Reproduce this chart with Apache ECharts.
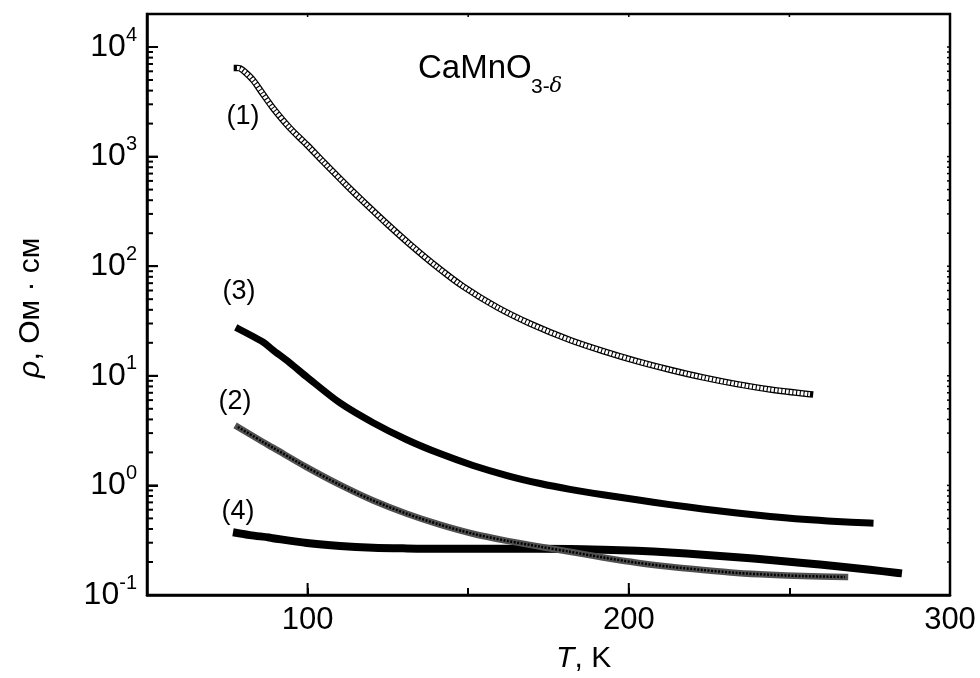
<!DOCTYPE html>
<html>
<head>
<meta charset="utf-8">
<script src="https://cdn.jsdelivr.net/npm/echarts@6/dist/echarts.min.js"></script>
<style>
html,body{margin:0;padding:0;background:#fff}
#wrap{position:relative;width:980px;height:678px}
#axes,#plot{position:absolute;left:0;top:0;width:980px;height:678px}
</style>
</head>
<body>
<div id="wrap"><div id="axes"></div><div id="plot"></div></div>
<script>
// ---- data ----
// curve (1): open circles
const T1 = [78.0, 79.0, 80.5, 83.0, 86.1, 89.2, 94.5, 99.8, 104.8, 112.3, 117.3, 124.7, 131.9, 140.3, 148.4, 159.0, 169.2, 181.7, 192.0, 202.5, 212.8, 223.1, 233.7, 244.0, 256.4];
const R1 = [6430, 6370, 5910, 5000, 3720, 2780, 1820, 1280, 902, 541, 390, 244, 158, 98.6, 65.5, 42.2, 30.0, 21.2, 16.8, 13.6, 11.35, 9.66, 8.39, 7.50, 6.79];
// curve (2): asterisks
const T2 = [78.3, 86.1, 89.2, 99.8, 110.1, 120.4, 130.9, 141.2, 151.5, 162.1, 172.4, 181.7, 192.0, 202.5, 212.8, 223.1, 233.7, 244.0, 254.2, 267.3];
const R2 = [3.41, 2.49, 2.21, 1.46, 1.01, 0.728, 0.551, 0.438, 0.362, 0.312, 0.276, 0.248, 0.220, 0.197, 0.181, 0.169, 0.159, 0.153, 0.149, 0.146];
// curve (3): filled squares
const T3 = [78.6, 86.1, 89.2, 94.5, 99.8, 110.1, 120.4, 130.9, 141.2, 151.5, 162.1, 172.4, 181.7, 192.0, 202.5, 212.8, 223.1, 233.7, 244.0, 254.2, 264.8, 275.1];
const R3 = [26.7, 20.3, 17.2, 13.1, 9.75, 5.65, 3.73, 2.61, 1.95, 1.52, 1.23, 1.04, 0.920, 0.822, 0.740, 0.668, 0.610, 0.560, 0.521, 0.491, 0.469, 0.454];
// curve (4): filled squares
const T4 = [78.0, 82.0, 88.0, 89.2, 99.8, 110.1, 120.4, 130.9, 141.2, 162.1, 181.7, 192.0, 202.5, 212.8, 223.1, 233.7, 244.0, 254.2, 264.8, 275.1, 283.8];
const R4 = [0.368, 0.352, 0.335, 0.330, 0.298, 0.280, 0.270, 0.266, 0.264, 0.264, 0.263, 0.259, 0.253, 0.244, 0.233, 0.221, 0.209, 0.196, 0.183, 0.170, 0.159];

// axes
const xMin = 50, xMax = 300, xStep = 50;
const xMajorTicks = [100, 200, 300];
const xTopTicks = [100, 150, 200, 250];
const yMin = 0.1, yMax = 20000;
const yMajorTicks = [0.1, 1, 10, 100, 1000, 10000];
const yTickBase = '10';
const yTickExponents = ['-1', '0', '1', '2', '3', '4'];
const yMinorTicks = [];
yMajorTicks.forEach(d => { for (let k = 2; k <= 9; k++) { const v = d * k; if (v < yMax) yMinorTicks.push(v); } });

// texts
const curveLabels = ['(1)', '(3)', '(2)', '(4)'];
const titleMain = 'CaMnO';
const titleSub = '3-';
const titleSubGreek = 'δ';
const xNameItalic = 'T', xNameRest = ', K';
const yNameItalic = 'ρ', yNameRest = ', Ом · см';

const FONT = '"Liberation Sans", Arial, Helvetica, sans-serif';
const GRID = {left: 147, right: 30, top: 14, bottom: 83};
const pairs = (T, R) => T.map((t, i) => [t, R[i]]);

// ---------- layer 1: frame, axes and tick marks ----------
const axesChart = echarts.init(document.getElementById('axes'), null, {renderer: 'canvas'});
axesChart.setOption({
  animation: false,
  grid: Object.assign({show: true, borderColor: '#000', borderWidth: 2.5}, GRID),
  xAxis: [{
    type: 'value', min: xMin, max: xMax, interval: xStep,
    axisTick: {show: true, inside: true, length: 7, lineStyle: {color: '#000', width: 2}},
    axisLine: {show: true, lineStyle: {color: '#000', width: 2.5}},
    axisLabel: {show: false}, splitLine: {show: false}
  }],
  yAxis: [{
    type: 'log', min: yMin, max: yMax,
    axisTick: {show: true, inside: true, length: 11, lineStyle: {color: '#000', width: 2}},
    axisLine: {show: true, lineStyle: {color: '#000', width: 2.5}},
    axisLabel: {show: false}, splitLine: {show: false}
  }],
  series: []
});
const apx = (x, y) => axesChart.convertToPixel({xAxisIndex: 0, yAxisIndex: 0}, [x, y]);
const tickLines = [];
const tick = (p, dx, dy, w) => {
  if (!p || isNaN(p[0]) || isNaN(p[1])) return;
  tickLines.push({type: 'line', shape: {x1: p[0], y1: p[1], x2: p[0] + dx, y2: p[1] + dy}, style: {stroke: '#000', lineWidth: w}});
};
xMajorTicks.forEach(v => tick(apx(v, yMin), 0, -12, 2));
xTopTicks.forEach(v => tick(apx(v, yMax), 0, 3, 1.5));
yMajorTicks.forEach(v => tick(apx(xMin, v), 11, 0, 2));
yMinorTicks.forEach(v => tick(apx(xMin, v), 6, 0, 2));
yMajorTicks.concat(yMinorTicks).forEach(v => tick(apx(xMax, v), -3, 0, 1.5));
axesChart.setOption({graphic: tickLines});

// ---------- layer 2: curves and texts ----------
const plotChart = echarts.init(document.getElementById('plot'), null, {renderer: 'canvas'});
const curve = (data, color, width, z, dash) => ({
  type: 'line', data, symbol: 'none', smooth: 0.3, z,
  lineStyle: {color, width, cap: dash ? 'butt' : 'square', join: 'round', type: dash || 'solid'}
});
plotChart.setOption({
  animation: false,
  backgroundColor: 'transparent',
  grid: Object.assign({}, GRID),
  xAxis: [{type: 'value', min: xMin, max: xMax, show: false}],
  yAxis: [{type: 'log', min: yMin, max: yMax, show: false}],
  series: [
    curve(pairs(T1, R1), '#000', 6.5, 2),
    curve(pairs(T1, R1), '#fff', 4, 3, [2.6, 1.1]),
    curve(pairs(T3, R3), '#000', 7, 2),
    curve(pairs(T2, R2), '#505050', 6.5, 4),
    curve(pairs(T2, R2), '#000', 2.5, 5, [2, 1.5]),
    curve(pairs(T4, R4), '#000', 8, 2)
  ]
});

const px = (x, y) => plotChart.convertToPixel({xAxisIndex: 0, yAxisIndex: 0}, [x, y]);
const g = [];
const txt = (x, y, text, size, align, valign, italic, family) => g.push({
  type: 'text', x, y,
  style: {text, fontSize: size, fontFamily: family || FONT, fontStyle: italic ? 'italic' : 'normal', fill: '#000', align, verticalAlign: valign}
});

// x tick labels
xMajorTicks.forEach(v => { const p = px(v, yMin); txt(p[0], p[1] + 10, String(v), 31, 'center', 'top'); });
// y tick labels: 10 with raised exponent
yMajorTicks.forEach((v, i) => {
  const p = px(xMin, v);
  const e = yTickExponents[i];
  const ew = e.replace('-', '').length * 11.1 + (e.indexOf('-') >= 0 ? 6.7 : 0);
  const right = p[0] - 10;
  txt(right - ew, p[1], yTickBase, 32, 'right', 'middle');
  txt(right, p[1] - 12, e, 20, 'right', 'middle');
});
// axis names
txt(556, 659, xNameItalic, 30, 'left', 'middle', true);
txt(574.5, 659, xNameRest, 30, 'left', 'middle');
g.push({type: 'text', x: 31, y: 378, rotation: Math.PI / 2,
  style: {text: yNameItalic, fontSize: 30, fontFamily: FONT, fontStyle: 'italic', fill: '#000', align: 'left', verticalAlign: 'middle'}});
g.push({type: 'text', x: 31, y: 360.5, rotation: Math.PI / 2,
  style: {text: yNameRest, fontSize: 30, fontFamily: FONT, fill: '#000', align: 'left', verticalAlign: 'middle'}});
// curve labels and title
txt(243, 117, curveLabels[0], 27, 'center', 'middle');
txt(239, 292, curveLabels[1], 27, 'center', 'middle');
txt(235, 402, curveLabels[2], 27, 'center', 'middle');
txt(238, 512, curveLabels[3], 27, 'center', 'middle');
txt(418, 69, titleMain, 33, 'left', 'middle');
txt(531, 87, titleSub, 21, 'left', 'middle');
txt(549.5, 87, titleSubGreek, 21, 'left', 'middle', true, '"DejaVu Serif", "Liberation Serif", serif');

plotChart.setOption({graphic: g});
</script>
</body>
</html>
